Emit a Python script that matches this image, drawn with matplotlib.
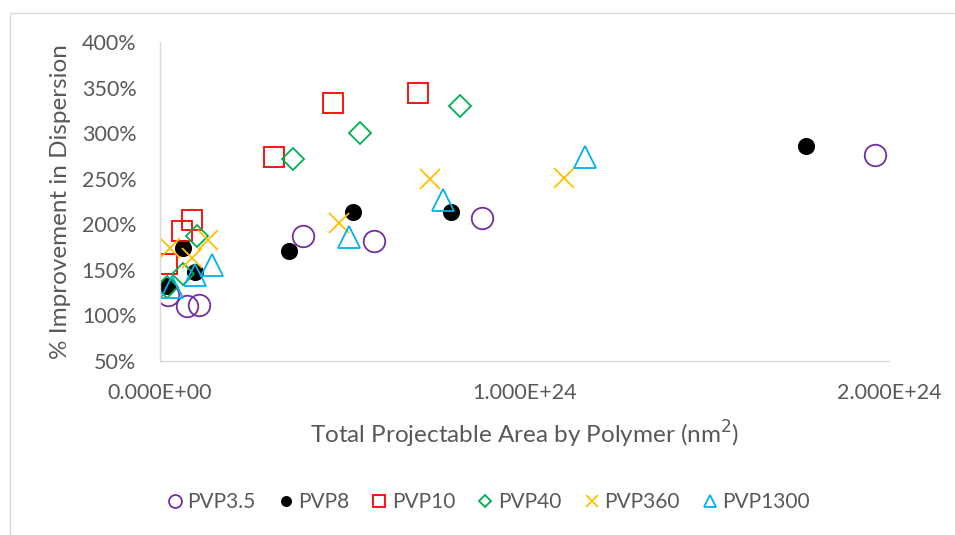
import matplotlib.pyplot as plt
import matplotlib.patches as mpatches
from matplotlib.ticker import FuncFormatter, MultipleLocator

plt.rcParams['font.family'] = ['Lato', 'DejaVu Sans']

# data: x in units of 1E24 nm^2, y in %
pvp3_5_x = [0.023, 0.073, 0.108, 0.392, 0.588, 0.883, 1.961]
pvp3_5_y = [122, 110, 111, 187, 182, 207, 276]

pvp8_x = [0.020, 0.064, 0.096, 0.354, 0.530, 0.798, 1.771]
pvp8_y = [132, 174, 148, 171, 214, 214, 286]

pvp10_x = [0.019, 0.060, 0.087, 0.314, 0.474, 0.709]
pvp10_y = [156, 193, 205, 274, 333, 344]

pvp40_x = [0.018, 0.063, 0.101, 0.366, 0.550, 0.824]
pvp40_y = [131, 145, 187, 272, 300, 330]

pvp360_x = [0.027, 0.087, 0.133, 0.491, 0.741, 1.109]
pvp360_y = [174, 163, 183, 201, 250, 251]

pvp1300_x = [0.032, 0.096, 0.142, 0.518, 0.777, 1.167]
pvp1300_y = [131, 144, 155, 186, 227, 274]

labels = ['PVP3.5', 'PVP8', 'PVP10', 'PVP40', 'PVP360', 'PVP1300']
x_ticks = [0, 1.0, 2.0]
x_tick_labels = ['0.000E+00', '1.000E+24', '2.000E+24']

grey_txt = '#595959'
grey_line = '#D9D9D9'

fig = plt.figure(figsize=(9.55, 5.35), dpi=100)
ax = fig.add_axes([160/955, 1-361/535, (889-160)/955, (361-42)/535])

# outer chart frame (left + top visible)
fig.add_artist(mpatches.Rectangle((10/955, -0.1), 1.2, 1-13/535+0.1,
                                  transform=fig.transFigure, fill=False,
                                  edgecolor=grey_line, linewidth=1.0))

lw = 1.3
ax.plot(pvp3_5_x, pvp3_5_y, 'o', ms=15.5, mfc='none', mec='#7030A0', mew=lw, label=labels[0])
ax.plot(pvp8_x, pvp8_y, 'o', ms=11.0, mfc='black', mec='black', mew=lw, label=labels[1])
ax.plot(pvp10_x, pvp10_y, 's', ms=15.0, mfc='none', mec='#FF0000', mew=lw, label=labels[2])
ax.plot(pvp40_x, pvp40_y, 'D', ms=11.0, mfc='none', mec='#00B050', mew=lw, label=labels[3])
ax.plot(pvp360_x, pvp360_y, 'x', ms=14.5, mec='#FFC000', mew=lw, label=labels[4])
ax.plot(pvp1300_x, pvp1300_y, '^', ms=15.5, mfc='none', mec='#00B0F0', mew=lw, label=labels[5])

ax.set_xlim(0, 2.0)
ax.set_ylim(50, 400)
ax.set_xticks(x_ticks)
ax.set_xticklabels(x_tick_labels)
ax.yaxis.set_major_locator(MultipleLocator(50))
ax.yaxis.set_major_formatter(FuncFormatter(lambda v, p: '%d%%' % v))

for s in ['top', 'right']:
    ax.spines[s].set_visible(False)
for s in ['left', 'bottom']:
    ax.spines[s].set_color(grey_line)
    ax.spines[s].set_linewidth(1.0)
ax.tick_params(length=0, labelsize=15.5, colors=grey_txt)
ax.tick_params(axis='x', pad=16)
ax.tick_params(axis='y', pad=17)

ax.set_xlabel('Total Projectable Area by Polymer (nm$^2$)', fontsize=17.5, color=grey_txt, labelpad=11)
ax.set_ylabel('% Improvement in Dispersion', fontsize=17.5, color=grey_txt, labelpad=8)

fig.legend(loc='center', bbox_to_anchor=(487/955, 1-502/535), ncol=6, frameon=False,
           fontsize=15, labelcolor=grey_txt, handletextpad=0.1, columnspacing=0.95,
           handlelength=1.0, markerscale=0.6)

fig.savefig('out.png', dpi=100)
